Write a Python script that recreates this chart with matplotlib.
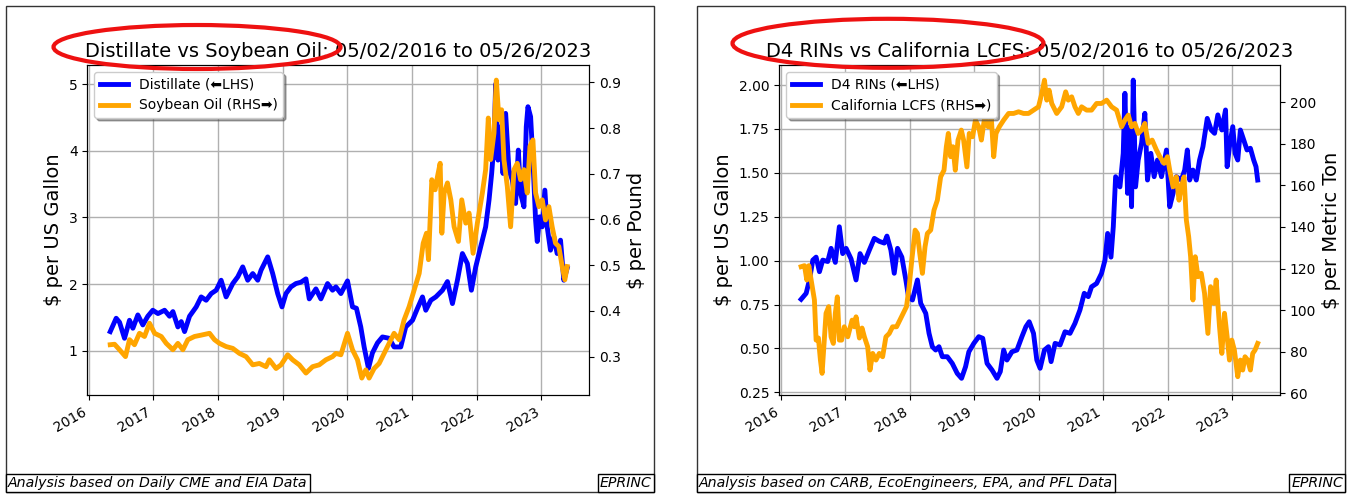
import datetime as dt
import matplotlib
matplotlib.use("Agg")
import matplotlib.pyplot as plt
import matplotlib.dates as mdates
from matplotlib.patches import Ellipse, Rectangle

# ---- data (decimal years) ----
dist_t = [2016.335, 2016.427, 2016.479, 2016.556, 2016.633, 2016.685, 2016.762, 2016.839, 2016.916, 2016.993,
          2017.071, 2017.173, 2017.250, 2017.302, 2017.379, 2017.431, 2017.482, 2017.559, 2017.662, 2017.739,
          2017.816, 2017.894, 2017.971, 2018.048, 2018.125, 2018.228, 2018.305, 2018.382, 2018.459, 2018.537,
          2018.614, 2018.665, 2018.768, 2018.845, 2018.922, 2018.989, 2019.051, 2019.128, 2019.205, 2019.282,
          2019.360, 2019.411, 2019.514, 2019.591, 2019.694, 2019.771,
          2019.823, 2019.900, 2020.003, 2020.080, 2020.141, 2020.208, 2020.260, 2020.327, 2020.388, 2020.466,
          2020.543, 2020.646, 2020.723, 2020.826, 2020.903, 2021.006, 2021.083, 2021.160, 2021.211, 2021.289,
          2021.366, 2021.469, 2021.546, 2021.623, 2021.700, 2021.777, 2021.854, 2021.916, 2021.983, 2022.060,
          2022.137, 2022.189, 2022.230, 2022.266, 2022.292, 2022.328, 2022.369, 2022.405, 2022.446, 2022.497,
          2022.549, 2022.600, 2022.642, 2022.677, 2022.729, 2022.765, 2022.791, 2022.832, 2022.868, 2022.909,
          2022.935, 2022.971, 2023.012, 2023.053, 2023.089, 2023.140, 2023.192, 2023.243, 2023.295, 2023.346,
          2023.398]
dist_v = [1.29, 1.49, 1.43, 1.19, 1.46, 1.34, 1.54, 1.39, 1.52, 1.61,
          1.56, 1.61, 1.52, 1.59, 1.36, 1.44, 1.29, 1.52, 1.66, 1.81,
          1.76, 1.86, 1.91, 2.06, 1.81, 2.01, 2.11, 2.26, 2.06, 2.16,
          2.06, 2.21, 2.41, 2.16, 1.86, 1.66, 1.86, 1.96, 2.01, 2.03,
          2.08, 1.78, 1.93, 1.78, 2.01, 1.91,
          1.96, 1.86, 2.05, 1.66, 1.64, 1.36, 1.06, 0.74, 0.97, 1.12,
          1.21, 1.19, 1.06, 1.06, 1.36, 1.46, 1.64, 1.81, 1.61, 1.76,
          1.81, 1.91, 2.04, 1.71, 2.06, 2.46, 2.31, 1.91, 2.26, 2.56,
          2.86, 3.26, 3.66, 4.11, 5.00, 3.86, 4.36, 3.66, 4.56, 3.71,
          3.56, 3.21, 4.01, 3.36, 3.16, 4.36, 4.66, 4.51, 3.86, 2.96,
          2.64, 3.01, 2.86, 3.41, 2.86, 2.51, 2.71, 2.46, 2.66, 2.06,
          2.24]

soy_t = [2016.335, 2016.402, 2016.479, 2016.571, 2016.633, 2016.710, 2016.787, 2016.865, 2016.942, 2017.019,
         2017.122, 2017.199, 2017.302, 2017.379, 2017.456, 2017.533, 2017.636, 2017.739, 2017.868, 2017.945,
         2018.022, 2018.125, 2018.228, 2018.331, 2018.434, 2018.537, 2018.639, 2018.742, 2018.794, 2018.897,
         2018.974, 2019.077, 2019.154, 2019.257, 2019.360, 2019.463, 2019.565, 2019.668, 2019.771,
         2019.823, 2019.900, 2020.003, 2020.080, 2020.157, 2020.224, 2020.286, 2020.337, 2020.414, 2020.492,
         2020.569, 2020.646, 2020.723, 2020.800, 2020.877, 2020.955, 2021.032, 2021.109, 2021.171, 2021.222,
         2021.253, 2021.304, 2021.356, 2021.392, 2021.433, 2021.459, 2021.495, 2021.546, 2021.598, 2021.649,
         2021.716, 2021.767, 2021.829, 2021.880, 2021.942, 2022.009, 2022.086, 2022.137, 2022.178, 2022.214,
         2022.266, 2022.302, 2022.343, 2022.384, 2022.420, 2022.472, 2022.523, 2022.575, 2022.626, 2022.677,
         2022.729, 2022.780, 2022.822, 2022.868, 2022.909, 2022.961, 2023.012, 2023.063, 2023.115, 2023.166,
         2023.218, 2023.269, 2023.321, 2023.362, 2023.398]
soy_v = [0.326, 0.327, 0.315, 0.300, 0.337, 0.326, 0.351, 0.344, 0.373, 0.351,
         0.344, 0.329, 0.315, 0.329, 0.315, 0.337, 0.344, 0.347, 0.351, 0.337,
         0.329, 0.322, 0.318, 0.307, 0.300, 0.282, 0.285, 0.278, 0.293, 0.274,
         0.282, 0.304, 0.293, 0.282, 0.264, 0.278, 0.282, 0.293, 0.300,
         0.307, 0.304, 0.351, 0.315, 0.293, 0.253, 0.271, 0.253, 0.274, 0.285,
         0.307, 0.329, 0.351, 0.337, 0.380, 0.409, 0.446, 0.482, 0.548, 0.570,
         0.512, 0.687, 0.665, 0.694, 0.723, 0.570, 0.658, 0.680, 0.643, 0.584,
         0.552, 0.643, 0.592, 0.614, 0.526, 0.592, 0.658, 0.709, 0.822, 0.731,
         0.789, 0.905, 0.818, 0.840, 0.731, 0.672, 0.584, 0.709, 0.723, 0.687,
         0.709, 0.658, 0.760, 0.774, 0.658, 0.628, 0.643, 0.599, 0.628, 0.584,
         0.548, 0.541, 0.497, 0.468, 0.497]

rin_t = [2016.319, 2016.397, 2016.448, 2016.500, 2016.551, 2016.603, 2016.654, 2016.731, 2016.783, 2016.849,
         2016.911, 2016.963, 2017.014, 2017.091, 2017.168, 2017.230, 2017.297, 2017.374, 2017.451, 2017.528,
         2017.605, 2017.647, 2017.708, 2017.760, 2017.811, 2017.878, 2017.940, 2017.981, 2018.043, 2018.120,
         2018.171, 2018.249, 2018.300, 2018.351, 2018.403, 2018.454, 2018.506, 2018.583, 2018.660, 2018.737,
         2018.804, 2018.866, 2018.917, 2018.994, 2019.071, 2019.133, 2019.200, 2019.277, 2019.354, 2019.405,
         2019.457, 2019.508, 2019.585, 2019.663, 2019.740, 2019.802, 2019.853,
         2019.920, 2019.971, 2020.023, 2020.090, 2020.152, 2020.193, 2020.255, 2020.332, 2020.409, 2020.486,
         2020.563, 2020.640, 2020.707, 2020.769, 2020.820, 2020.898, 2020.975, 2021.026, 2021.067, 2021.119,
         2021.155, 2021.191, 2021.258, 2021.309, 2021.335, 2021.376, 2021.412, 2021.438, 2021.464, 2021.500,
         2021.541, 2021.593, 2021.644, 2021.685, 2021.737, 2021.788, 2021.840, 2021.902, 2021.979, 2022.030,
         2022.082, 2022.133, 2022.210, 2022.262, 2022.303, 2022.339, 2022.390, 2022.442, 2022.493, 2022.545,
         2022.612, 2022.673, 2022.725, 2022.776, 2022.838, 2022.895, 2022.920, 2022.956, 2023.008, 2023.044,
         2023.085, 2023.126, 2023.178, 2023.229, 2023.281, 2023.332, 2023.368, 2023.394]
rin_v = [0.780, 0.814, 0.890, 1.003, 1.020, 0.937, 1.003, 0.995, 1.070, 0.990,
         1.193, 1.040, 1.070, 1.010, 0.890, 1.040, 0.990, 1.060, 1.127, 1.110,
         1.100, 1.140, 1.060, 0.928, 1.070, 1.020, 0.890, 0.794, 0.776, 0.890,
         0.757, 0.700, 0.586, 0.510, 0.491, 0.510, 0.453, 0.453, 0.415, 0.358,
         0.330, 0.396, 0.481, 0.529, 0.567, 0.558, 0.415, 0.377, 0.330, 0.368,
         0.491, 0.434, 0.481, 0.491, 0.567, 0.624, 0.652,
         0.586, 0.434, 0.387, 0.491, 0.510, 0.425, 0.529, 0.520, 0.595, 0.586,
         0.643, 0.719, 0.814, 0.795, 0.851, 0.870, 0.928, 1.003, 1.155, 1.020,
         1.193, 1.478, 1.420, 1.611, 1.953, 1.383, 1.763, 1.307, 2.028, 1.420,
         1.573, 1.668, 1.839, 1.459, 1.611, 1.478, 1.573, 1.478, 1.630, 1.307,
         1.383, 1.478, 1.459, 1.516, 1.630, 1.459, 1.516, 1.459, 1.573, 1.649,
         1.810, 1.744, 1.725, 1.830, 1.744, 1.858, 1.535, 1.649, 1.763, 1.611,
         1.573, 1.744, 1.687, 1.630, 1.640, 1.573, 1.535, 1.459]

lcfs_t = [2016.319, 2016.371, 2016.407, 2016.438, 2016.474, 2016.525, 2016.551, 2016.587, 2016.618, 2016.644,
          2016.680, 2016.705, 2016.747, 2016.783, 2016.818, 2016.849, 2016.880, 2016.911, 2016.947, 2016.988,
          2017.040, 2017.107, 2017.143, 2017.168, 2017.220, 2017.261, 2017.297, 2017.348, 2017.384, 2017.426,
          2017.477, 2017.528, 2017.580, 2017.631, 2017.683, 2017.734, 2017.796, 2017.847, 2017.899, 2017.950,
          2017.991, 2018.033, 2018.084, 2018.120, 2018.156, 2018.197, 2018.238, 2018.274, 2018.326, 2018.377,
          2018.429, 2018.480, 2018.532, 2018.568, 2018.599, 2018.635, 2018.671, 2018.707, 2018.749, 2018.800,
          2018.836, 2018.887, 2018.923, 2018.975, 2019.020, 2019.071, 2019.112, 2019.164, 2019.215, 2019.266,
          2019.303, 2019.339, 2019.390, 2019.457, 2019.534, 2019.611, 2019.688, 2019.766,
          2019.843, 2019.920, 2019.997, 2020.049, 2020.090, 2020.126, 2020.162, 2020.203, 2020.280, 2020.357,
          2020.419, 2020.460, 2020.512, 2020.563, 2020.615, 2020.666, 2020.743, 2020.820, 2020.898, 2020.975,
          2021.052, 2021.129, 2021.206, 2021.284, 2021.335, 2021.387, 2021.438, 2021.490, 2021.541, 2021.593,
          2021.644, 2021.696, 2021.757, 2021.824, 2021.876, 2021.943, 2021.994, 2022.030, 2022.082, 2022.133,
          2022.174, 2022.210, 2022.252, 2022.288, 2022.324, 2022.354, 2022.390, 2022.426, 2022.468, 2022.519,
          2022.570, 2022.622, 2022.663, 2022.714, 2022.750, 2022.802, 2022.838, 2022.879, 2022.920, 2022.956,
          2022.992, 2023.033, 2023.085, 2023.126, 2023.162, 2023.198, 2023.239, 2023.281, 2023.317, 2023.353,
          2023.394]
lcfs_v = [120.9, 121.4, 114.5, 121.4, 114.5, 104.9, 85.6, 86.6, 76.0, 69.6,
          86.6, 98.5, 101.7, 87.2, 84.0, 98.5, 106.4, 85.6, 85.6, 92.0,
          87.2, 95.2, 92.0, 96.8, 86.6, 91.4, 87.2, 82.4, 71.2, 79.2,
          76.0, 79.2, 77.6, 87.2, 88.8, 92.0, 92.0, 95.2, 98.5, 101.7,
          111.3, 124.1, 138.5, 136.9, 127.3, 117.7, 130.5, 136.9, 138.5, 148.1,
          152.9, 164.1, 167.3, 178.6, 185.0, 173.8, 178.6, 167.3, 181.8, 186.6,
          181.8, 168.9, 185.0, 183.4, 191.4, 188.2, 181.8, 193.0, 188.2, 192.2,
          173.8, 185.0, 188.2, 191.4, 194.6, 194.6, 195.4, 194.6,
          194.6, 196.2, 197.8, 204.2, 210.6, 201.0, 205.8, 199.4, 194.6, 197.8,
          205.0, 201.0, 202.6, 197.8, 194.6, 197.8, 196.2, 196.2, 199.4, 199.4,
          201.0, 197.8, 196.2, 188.2, 191.4, 193.8, 188.2, 189.8, 185.0, 186.6,
          189.8, 180.2, 181.8, 177.0, 173.8, 170.6, 173.8, 167.3, 159.3, 164.1,
          152.9, 159.3, 164.1, 143.3, 135.3, 125.7, 104.9, 125.7, 116.1, 117.7,
          108.1, 88.8, 111.3, 103.3, 114.5, 92.0, 79.2, 98.5, 87.2, 76.0,
          85.6, 80.8, 68.0, 76.0, 71.2, 77.6, 76.0, 71.2, 79.2, 80.8,
          84.0]

W, H = 1355, 501


def to_dates(years):
    out = []
    for y in years:
        yr = int(y)
        out.append(dt.datetime(yr, 1, 1) + dt.timedelta(days=(y - yr) * 365.25))
    return out


def fx(px):
    return px / W


def fy(py):
    return 1 - py / H


def make_panel(fig, rect, t1, v1, t2, v2, lab1, lab2, ylab1, ylab2,
               ylim1, ylim2, yfmt1, title):
    ax = fig.add_axes(rect)
    ax2 = ax.twinx()
    l1, = ax.plot(to_dates(t1), v1, color="blue", lw=3.5, label=lab1)
    l2, = ax2.plot(to_dates(t2), v2, color="orange", lw=3.5, label=lab2)
    ax.set_xlim(to_dates([2015.98, 2023.74]))
    ax.set_ylim(*ylim1)
    ax2.set_ylim(*ylim2)
    ax.xaxis.set_major_locator(mdates.YearLocator())
    ax.xaxis.set_major_formatter(mdates.DateFormatter("%Y"))
    for lab in ax.get_xticklabels():
        lab.set_rotation(30)
        lab.set_ha("right")
    if yfmt1:
        ax.yaxis.set_major_formatter(plt.FormatStrFormatter(yfmt1))
    ax.grid(True, color="#b0b0b0", lw=1.0)
    ax.set_ylabel(ylab1, fontsize=14)
    ax2.set_ylabel(ylab2, fontsize=14)
    ax.set_title(title, fontsize=14)
    leg = ax2.legend(handles=[l1, l2], loc="upper left", shadow=True, fontsize=10)
    for ln in leg.get_lines():
        ln.set_linewidth(3.5)
    return ax, ax2


fig = plt.figure(figsize=(W / 100, H / 100), dpi=100)

ax_rect_l = [fx(87.3), fy(395), fx(589.3 - 87.3), (395 - 65) / H]
ax_rect_r = [fx(779.3), fy(395), fx(1280 - 779.3), (395 - 65) / H]

make_panel(fig, ax_rect_l, dist_t, dist_v, soy_t, soy_v,
           "Distillate (\u2b05LHS)", "Soybean Oil (RHS\u27a1)",
           "$ per US Gallon", "$ per Pound",
           (0.34, 5.285), (0.216, 0.938), None,
           "Distillate vs Soybean Oil: 05/02/2016 to 05/26/2023")
make_panel(fig, ax_rect_r, rin_t, rin_v, lcfs_t, lcfs_v,
           "D4 RINs (\u2b05LHS)", "California LCFS (RHS\u27a1)",
           "$ per US Gallon", "$ per Metric Ton",
           (0.235, 2.114), (59.2, 217.9), "%.2f",
           "D4 RINs vs California LCFS: 05/02/2016 to 05/26/2023")

# panel frames
for x0, x1 in [(6, 654), (697, 1345)]:
    fig.patches.append(Rectangle((fx(x0), fy(492)), fx(x1 - x0), (492 - 5.7) / H,
                                 transform=fig.transFigure, fill=False,
                                 edgecolor="#333333", lw=1.0))

# source boxes
box = dict(boxstyle="square,pad=0.15", fc="white", ec="black", lw=1)
fig.text(fx(8), fy(490), "Analysis based on Daily CME and EIA Data", style="italic",
         fontsize=10.2, ha="left", va="bottom", bbox=box)
fig.text(fx(652), fy(490), "EPRINC", style="italic", fontsize=10.2, ha="right", va="bottom", bbox=box)
fig.text(fx(699), fy(490), "Analysis based on CARB, EcoEngineers, EPA, and PFL Data", style="italic",
         fontsize=10.2, ha="left", va="bottom", bbox=box)
fig.text(fx(1343), fy(490), "EPRINC", style="italic", fontsize=10.2, ha="right", va="bottom", bbox=box)

# red highlight ellipses
for cx, cy, w, h in [(197, 47, 287, 44), (888, 43.3, 311, 49)]:
    fig.patches.append(Ellipse((fx(cx), fy(cy)), fx(w), h / H, transform=fig.transFigure,
                               fill=False, edgecolor="#ee1111", lw=3, zorder=10))

fig.savefig("out.png", dpi=100)
